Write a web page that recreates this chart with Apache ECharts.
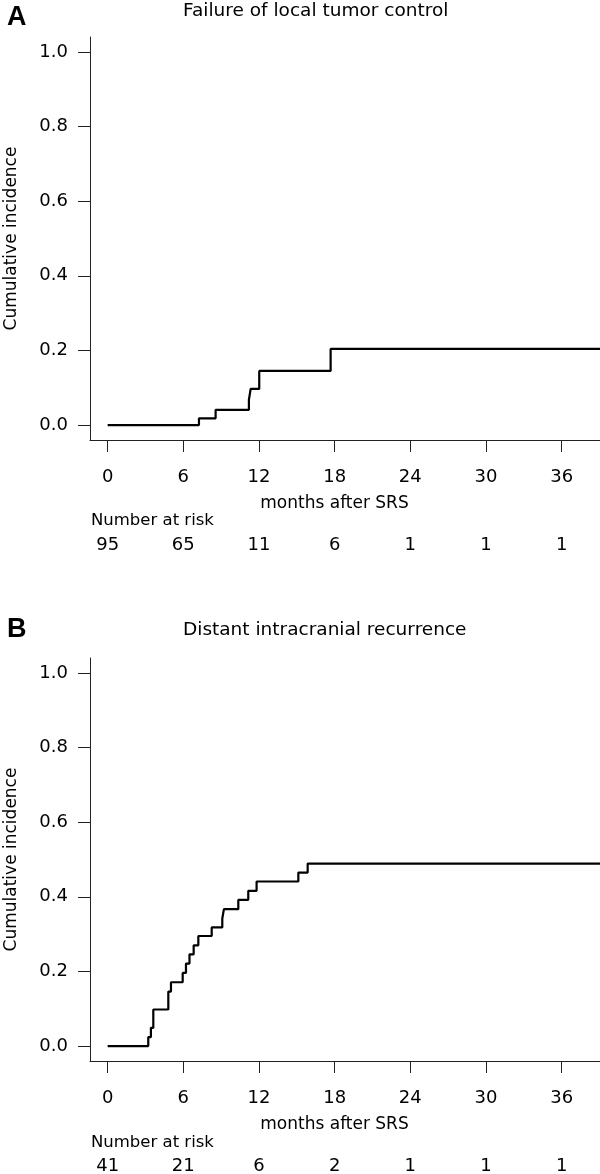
<!DOCTYPE html>
<html>
<head>
<meta charset="utf-8">
<script src="https://cdn.jsdelivr.net/npm/echarts@6/dist/echarts.min.js"></script>
<style>
html,body{margin:0;padding:0;background:#fff;}
#chart{width:600px;height:1174px;}
</style>
</head>
<body>
<div id="chart"></div>
<script>
// ---- data ----
const timesA = [0, 7.24, 8.56, 11.2, 11.34, 12.02, 17.68, 40];
const cumIncA = [0, 0.018, 0.041, 0.068, 0.097, 0.145, 0.204, 0.204];

const timesB = [0, 3.22, 3.43, 3.62, 4.81, 5.02, 5.95, 6.21, 6.49, 6.82, 7.19, 8.25, 9.09, 9.22, 10.36, 11.15, 11.81, 15.12, 15.86, 40];
const cumIncB = [0, 0.024, 0.049, 0.098, 0.146, 0.171, 0.196, 0.221, 0.246, 0.270, 0.295, 0.318, 0.342, 0.367, 0.392, 0.416, 0.441, 0.465, 0.489, 0.489];

const riskTimes = [0, 6, 12, 18, 24, 30, 36];
const riskA = [95, 65, 11, 6, 1, 1, 1];
const riskB = [41, 21, 6, 2, 1, 1, 1];
const yTicks = [0, 0.2, 0.4, 0.6, 0.8, 1.0];

const titleA = 'Failure of local tumor control';
const titleB = 'Distant intracranial recurrence';
const xName = 'months after SRS';
const yName = 'Cumulative incidence';
const riskLabel = 'Number at risk';

// ---- chart ----
const FONT = 'DejaVu Sans';
const AX = '#222';
const chart = echarts.init(document.getElementById('chart'), null, {renderer: 'canvas'});

const gridsPos = [
  {left: 90, top: 37, width: 510, height: 403},
  {left: 90, top: 658, width: 510, height: 403}
];

function mainX(gi) {
  return {
    type: 'value', gridIndex: gi, min: -1.40, max: 39.04,
    position: 'bottom',
    axisLine: {show: true, onZero: false, lineStyle: {color: AX, width: 1}},
    axisTick: {show: true, inside: false, length: 12, customValues: riskTimes, lineStyle: {color: AX, width: 1}},
    axisLabel: {show: true, margin: 28, customValues: riskTimes, color: '#000', fontFamily: FONT, fontSize: 18},
    splitLine: {show: false},
    name: xName, nameLocation: 'middle', nameGap: 55,
    nameTextStyle: {color: '#000', fontFamily: FONT, fontSize: 17, padding: [0, 21, 0, 0]}
  };
}
function riskX(gi, risk) {
  return {
    type: 'value', gridIndex: gi, min: -1.40, max: 39.04,
    position: 'bottom', offset: 96,
    axisLine: {show: false},
    axisTick: {show: false},
    axisLabel: {show: true, margin: 0, customValues: riskTimes, color: '#000', fontFamily: FONT, fontSize: 18,
      formatter: v => String(risk[riskTimes.indexOf(v)])},
    splitLine: {show: false}
  };
}
function mainY(gi) {
  return {
    type: 'value', gridIndex: gi, min: -0.04, max: 1.04,
    axisLine: {show: true, onZero: false, lineStyle: {color: AX, width: 1}},
    axisTick: {show: true, inside: false, length: 12, customValues: yTicks, lineStyle: {color: AX, width: 1}},
    axisLabel: {show: true, margin: 22, customValues: yTicks, color: '#000', fontFamily: FONT, fontSize: 18,
      formatter: v => v.toFixed(1)},
    splitLine: {show: false},
    name: yName, nameLocation: 'middle', nameGap: 70, nameRotate: 90,
    nameTextStyle: {color: '#000', fontFamily: FONT, fontSize: 17}
  };
}

function pairs(t, v) { return t.map((x, i) => [x, v[i]]); }

const option = {
  animation: false,
  backgroundColor: '#fff',
  grid: gridsPos.map(g => Object.assign({containLabel: false, outerBoundsMode: 'none'}, g)),
  xAxis: [mainX(0), riskX(0, riskA), mainX(1), riskX(1, riskB)],
  yAxis: [mainY(0), mainY(1)],
  series: [
    {type: 'line', xAxisIndex: 0, yAxisIndex: 0, step: 'end', symbol: 'none', clip: true,
     lineStyle: {color: '#000', width: 2.2}, data: pairs(timesA, cumIncA)},
    {type: 'line', xAxisIndex: 2, yAxisIndex: 1, step: 'end', symbol: 'none', clip: true,
     lineStyle: {color: '#000', width: 2.2}, data: pairs(timesB, cumIncB)}
  ],
  graphic: [
    {type: 'text', left: 7, top: 4, style: {text: 'A', fontFamily: 'Liberation Sans', fontWeight: 'bold', fontSize: 27, fill: '#000'}},
    {type: 'text', left: 7, top: 616, style: {text: 'B', fontFamily: 'Liberation Sans', fontWeight: 'bold', fontSize: 27, fill: '#000'}},
    {type: 'text', left: 183, top: 2, style: {text: titleA, fontFamily: FONT, fontSize: 18.5, fill: '#000'}},
    {type: 'text', left: 183, top: 621, style: {text: titleB, fontFamily: FONT, fontSize: 18.5, fill: '#000'}},
    {type: 'text', left: 91, top: 512, style: {text: riskLabel, fontFamily: FONT, fontSize: 16.5, fill: '#000'}},
    {type: 'text', left: 91, top: 1134, style: {text: riskLabel, fontFamily: FONT, fontSize: 16.5, fill: '#000'}}
  ]
};
chart.setOption(option);
</script>
</body>
</html>
